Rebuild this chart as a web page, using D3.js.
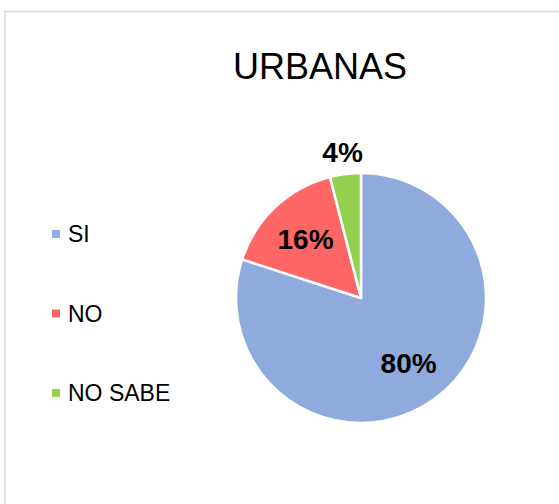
<!DOCTYPE html>
<html>
<head>
<meta charset="utf-8">
<script src="https://cdn.jsdelivr.net/npm/d3@7"></script>
<style>
  body { margin: 0; background: #fff; }
  svg { display: block; font-family: "Liberation Sans", Arial, sans-serif; }
</style>
</head>
<body>
<div id="chart"></div>
<script>
// chart values
const categories = ["SI", "NO", "NO SABE"];
const values = [80, 16, 4];
const labels = ["80%", "16%", "4%"];
const colors = ["#8FAADC", "#FF6666", "#92D050"];
const title = "URBANAS";

const width = 559, height = 504;
const cx = 361, cy = 298, radius = 125;

const svg = d3.select("#chart").append("svg")
    .attr("width", width)
    .attr("height", height);

// chart frame (runs past the right and bottom edges)
svg.append("rect")
    .attr("x", 5)
    .attr("y", 11.5)
    .attr("width", 800)
    .attr("height", 700)
    .attr("fill", "#fff")
    .attr("stroke", "#D9D9D9")
    .attr("stroke-width", 1.5);

svg.append("text")
    .attr("x", 320)
    .attr("y", 79)
    .attr("text-anchor", "middle")
    .attr("font-size", 36)
    .attr("fill", "#000")
    .text(title);

const data = categories.map((c, i) => ({ category: c, value: values[i], label: labels[i] }));

const pie = d3.pie()
    .value(d => d.value)
    .sort(null);

const arcs = pie(data);

const arc = d3.arc()
    .innerRadius(0)
    .outerRadius(radius);

const color = d3.scaleOrdinal()
    .domain(categories)
    .range(colors);

const g = svg.append("g")
    .attr("transform", `translate(${cx},${cy})`);

g.selectAll("path")
    .data(arcs)
    .join("path")
    .attr("d", arc)
    .attr("fill", d => color(d.data.category))
    .attr("stroke", "#fff")
    .attr("stroke-width", 2.5)
    .attr("stroke-linejoin", "round");

// labels: inside for big slices, outside for the small one
const inner = d3.arc().innerRadius(81).outerRadius(81);
const outer = d3.arc().innerRadius(147).outerRadius(147);

g.selectAll("text.lbl")
    .data(arcs)
    .join("text")
    .attr("class", "lbl")
    .attr("transform", d => {
        const p = (d.endAngle - d.startAngle) < 0.5 ? outer.centroid(d) : inner.centroid(d);
        return `translate(${p[0]},${p[1]})`;
    })
    .attr("text-anchor", "middle")
    .attr("dy", "0.35em")
    .attr("font-size", 28)
    .attr("font-weight", "bold")
    .attr("fill", "#000")
    .text(d => d.data.label);

// legend
const legendY = d3.scalePoint()
    .domain(categories)
    .range([234, 393]);

const legend = svg.append("g")
    .selectAll("g")
    .data(categories)
    .join("g")
    .attr("transform", d => `translate(52,${legendY(d)})`);

legend.append("rect")
    .attr("x", 0)
    .attr("y", -4)
    .attr("width", 8)
    .attr("height", 8)
    .attr("fill", d => color(d));

legend.append("text")
    .attr("x", 16)
    .attr("dy", "0.35em")
    .attr("font-size", 23)
    .attr("fill", "#000")
    .text(d => d);
</script>
</body>
</html>
